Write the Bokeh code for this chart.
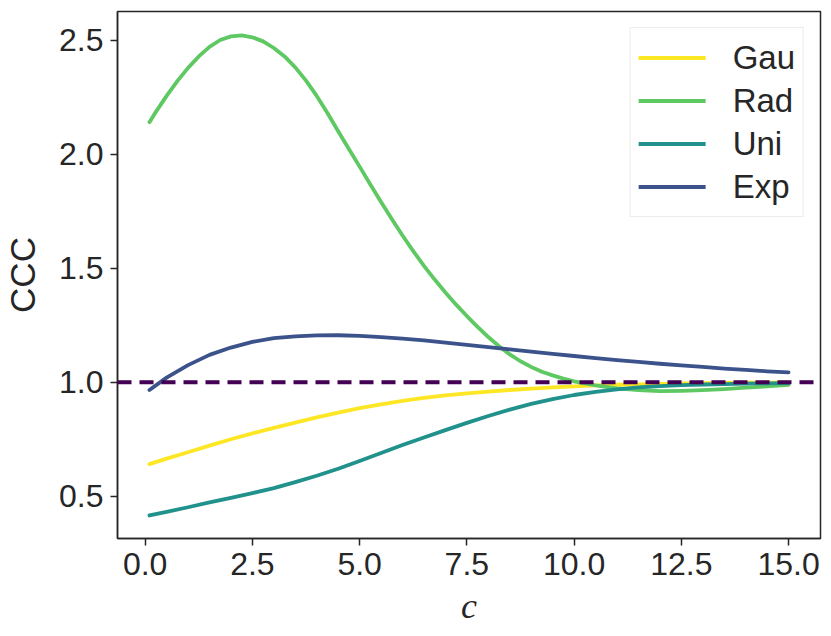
from bokeh.plotting import figure
from bokeh.models import Range1d, Span, Legend, LegendItem, FixedTicker
from bokeh.embed import file_html
from bokeh.resources import INLINE

c_vals = [0.1, 0.5, 1.0, 1.5, 2.0, 2.5, 3.0, 3.5, 4.0, 4.5, 5.0, 5.5, 6.0, 6.5, 7.0, 7.5,
          8.0, 8.5, 9.0, 9.5, 10.0, 10.5, 11.0, 11.5, 12.0, 12.5, 13.0, 13.5, 14.0, 14.5, 15.0]

gau = [0.641, 0.665, 0.693, 0.722, 0.750, 0.776, 0.800, 0.823, 0.846, 0.867, 0.886, 0.903,
       0.918, 0.931, 0.942, 0.951, 0.959, 0.966, 0.972, 0.977, 0.982, 0.986, 0.989, 0.991,
       0.993, 0.995, 0.996, 0.997, 0.998, 0.998, 0.999]

c_rad = [0.1, 0.25, 0.5, 0.75, 1.0, 1.25, 1.5, 1.75, 2.0, 2.25, 2.5, 2.75, 3.0, 3.25, 3.5,
         3.75, 4.0, 4.25, 4.5, 4.75, 5.0, 5.25, 5.5, 5.75, 6.0, 6.25, 6.5, 6.75, 7.0, 7.25,
         7.5, 7.75, 8.0, 8.25, 8.5, 8.75, 9.0, 9.25, 9.5, 9.75, 10.0, 10.5, 11.0, 11.5,
         12.0, 12.5, 13.0, 13.5, 14.0, 14.5, 15.0]

rad = [2.140, 2.185, 2.255, 2.320, 2.378, 2.428, 2.470, 2.500, 2.516, 2.520, 2.512, 2.494,
       2.465, 2.428, 2.380, 2.322, 2.255, 2.180, 2.100, 2.022, 1.945, 1.867, 1.790, 1.715,
       1.643, 1.575, 1.510, 1.450, 1.393, 1.340, 1.290, 1.243, 1.198, 1.158, 1.122, 1.092,
       1.067, 1.046, 1.030, 1.016, 1.004, 0.986, 0.973, 0.965, 0.961, 0.962, 0.965, 0.970,
       0.976, 0.982, 0.988]

uni = [0.416, 0.432, 0.452, 0.473, 0.493, 0.514, 0.536, 0.562, 0.590, 0.621, 0.655, 0.690,
       0.725, 0.758, 0.790, 0.822, 0.852, 0.880, 0.905, 0.926, 0.944, 0.958, 0.969, 0.977,
       0.983, 0.987, 0.990, 0.992, 0.994, 0.995, 0.996]

exp_ = [0.966, 1.020, 1.075, 1.120, 1.152, 1.177, 1.193, 1.201, 1.205, 1.206, 1.203, 1.198,
        1.191, 1.183, 1.174, 1.164, 1.154, 1.144, 1.134, 1.124, 1.115, 1.106, 1.097, 1.089,
        1.081, 1.074, 1.067, 1.060, 1.054, 1.048, 1.043]

series_names = ["Gau", "Rad", "Uni", "Exp"]
series_x = [c_vals, c_rad, c_vals, c_vals]
series_values = [gau, rad, uni, exp_]
series_colors = ["#fde725", "#5ec962", "#21918c", "#3b528b"]

x_ticks = [0.0, 2.5, 5.0, 7.5, 10.0, 12.5, 15.0]
y_ticks = [0.5, 1.0, 1.5, 2.0, 2.5]
ref_level = 1.0

DARK = "#262626"
FONT = "Liberation Sans"

p = figure(width=823, height=628, output_backend="svg", toolbar_location=None,
           x_range=Range1d(-0.645, 15.745), y_range=Range1d(0.315, 2.625),
           min_border_left=112, min_border_right=3, min_border_top=11, min_border_bottom=90)

p.xgrid.visible = False
p.ygrid.visible = False
p.outline_line_color = DARK
p.outline_line_width = 1.5
p.background_fill_color = "white"
p.border_fill_color = "white"

items = []
for name, xs, vals, col in zip(series_names, series_x, series_values, series_colors):
    r = p.line(xs, vals, line_color=col, line_width=3.8, line_cap="round", line_join="round")
    items.append(LegendItem(label=name, renderers=[r]))

p.add_layout(Span(location=ref_level, dimension="width", line_color="#440154",
                  line_width=4, line_dash="14 8"))

for ax in (p.xaxis[0], p.yaxis[0]):
    ax.axis_line_color = DARK
    ax.axis_line_width = 1.5
    ax.major_tick_line_color = DARK
    ax.major_tick_line_width = 1.5
    ax.major_tick_out = 7
    ax.major_tick_in = 0
    ax.minor_tick_line_color = None
    ax.major_label_text_font = FONT
    ax.major_label_text_font_size = "32px"
    ax.major_label_text_color = DARK
    ax.major_label_standoff = 7

p.xaxis.ticker = FixedTicker(ticks=x_ticks)
p.yaxis.ticker = FixedTicker(ticks=y_ticks)
p.xaxis.major_label_overrides = {t: f"{t:.1f}" for t in x_ticks}
p.yaxis.major_label_overrides = {t: f"{t:.1f}" for t in y_ticks}

p.xaxis.axis_label = "c"
p.xaxis.axis_label_text_font = "Liberation Serif"
p.xaxis.axis_label_text_font_style = "italic"
p.xaxis.axis_label_text_font_size = "36px"
p.xaxis.axis_label_text_color = DARK
p.xaxis.axis_label_standoff = 8

p.yaxis.axis_label = "CCC"
p.yaxis.axis_label_text_font = FONT
p.yaxis.axis_label_text_font_style = "normal"
p.yaxis.axis_label_text_font_size = "35px"
p.yaxis.axis_label_text_color = DARK
p.yaxis.axis_label_standoff = 14

legend = Legend(items=items, location="top_right")
legend.label_text_font = FONT
legend.label_text_font_size = "33px"
legend.label_text_color = DARK
legend.glyph_width = 67
legend.glyph_height = 43
legend.label_standoff = 27
legend.padding = 8
legend.spacing = 0
legend.margin = 16
legend.border_line_color = "#d9d9d9"
legend.border_line_width = 1.2
legend.background_fill_color = "white"
legend.background_fill_alpha = 0.85
p.add_layout(legend)

open("out.html", "w").write(file_html(p, INLINE))
